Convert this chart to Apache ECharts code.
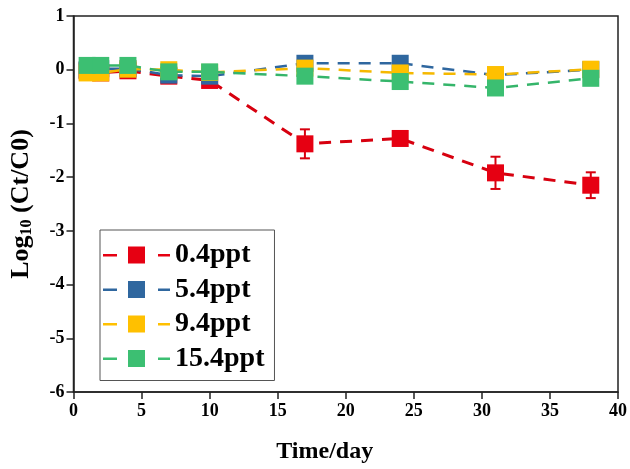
<!DOCTYPE html>
<html>
<head>
<meta charset="utf-8">
<script src="https://cdn.jsdelivr.net/npm/echarts@6/dist/echarts.min.js"></script>
<style>
  html, body { margin: 0; padding: 0; background: #fff; }
  #chart { width: 630px; height: 469px; }
</style>
</head>
<body>
<div id="chart"></div>
<script>
// sampling days
const days = [1, 2, 4, 7, 10, 17, 24, 31, 38]

// log10(Ct/C0) per salinity
const names = ['0.4ppt', '5.4ppt', '9.4ppt', '15.4ppt']
const red = [-0.02, -0.06, -0.02, -0.12, -0.2, -1.38, -1.28, -1.92, -2.15]
const blue = [0.0, 0.02, 0.02, -0.1, -0.12, 0.12, 0.12, -0.1, 0.0]
const orange = [-0.06, -0.06, 0.01, 0.0, -0.05, 0.03, -0.06, -0.09, 0.01]
const green = [0.08, 0.08, 0.08, -0.04, -0.04, -0.12, -0.22, -0.34, -0.16]

// error (±)
const redErr = [0.03, 0.05, 0.03, 0.04, 0.05, 0.27, 0.05, 0.3, 0.24]
const blueErr = [0.03, 0.03, 0.03, 0.03, 0.03, 0.05, 0.05, 0.03, 0.03]
const orangeErr = [0.03, 0.03, 0.04, 0.04, 0.06, 0.04, 0.08, 0.04, 0.03]
const greenErr = [0.04, 0.04, 0.03, 0.04, 0.04, 0.05, 0.05, 0.06, 0.05]

const xTicks = { min: 0, max: 40, interval: 5 }
const yTicks = { min: -6, max: 1, interval: 1 }

const colors = ['#e60012', '#2f679f', '#ffc000', '#3cbf72']
const lineColors = ['#d7000f', '#2f679f', '#f5b800', '#35b56a']
const values = [red, blue, orange, green]
const errs = [redErr, blueErr, orangeErr, greenErr]

const font = '"Liberation Serif", "DejaVu Serif", serif'
// dash - square - dash, like the line+marker legend key
const legendIcon = 'path://M0,7.5h14v2.5h-14z M25,0h17v17h-17z M55,7.5h12v2.5h-12z'

const chart = echarts.init(document.getElementById('chart'), null, { renderer: 'canvas' })

const series = []
values.forEach((vals, i) => {
  series.push({
    name: names[i] + '_err',
    type: 'custom',
    silent: true,
    z: 2 + i,
    data: days.map((d, k) => [d, vals[k], errs[i][k]]),
    renderItem: (params, api) => {
      const x = api.value(0), y = api.value(1), e = api.value(2)
      const top = api.coord([x, y + e])
      const bot = api.coord([x, y - e])
      const cap = 5
      const style = { stroke: lineColors[i], lineWidth: 2 }
      return {
        type: 'group',
        children: [
          { type: 'line', shape: { x1: top[0], y1: top[1], x2: bot[0], y2: bot[1] }, style },
          { type: 'line', shape: { x1: top[0] - cap, y1: top[1], x2: top[0] + cap, y2: top[1] }, style },
          { type: 'line', shape: { x1: bot[0] - cap, y1: bot[1], x2: bot[0] + cap, y2: bot[1] }, style },
        ],
      }
    },
  })
  series.push({
    name: names[i],
    type: 'line',
    z: 2 + i,
    data: days.map((d, k) => [d, vals[k]]),
    symbol: 'rect',
    symbolSize: 17,
    lineStyle: { color: lineColors[i], width: i === 0 ? 3 : 2.5, type: [12, 9] },
    itemStyle: { color: colors[i] },
  })
})

chart.setOption({
  backgroundColor: '#fff',
  animation: false,
  grid: {
    left: 72, right: 11, top: 16, bottom: 73,
    show: true, borderColor: '#222', borderWidth: 1.5,
  },
  legend: {
    data: names,
    orient: 'vertical',
    left: 100,
    top: 230,
    icon: legendIcon,
    itemWidth: 67,
    itemHeight: 17,
    itemGap: 6.5,
    padding: [11, 10, 8, 3],
    borderColor: '#555',
    borderWidth: 1,
    textStyle: { fontFamily: font, fontWeight: 'bold', fontSize: 28, color: '#000' },
  },
  xAxis: {
    type: 'value',
    ...xTicks,
    name: 'Time/day',
    nameLocation: 'middle',
    nameGap: 48,
    nameTextStyle: { fontFamily: font, fontWeight: 'bold', fontSize: 24, color: '#000', padding: [0, 42, 0, 0] },
    axisLine: { onZero: false, lineStyle: { color: '#222', width: 1.5 } },
    axisTick: { length: 7, lineStyle: { color: '#222', width: 1.5 } },
    axisLabel: { fontFamily: font, fontWeight: 'bold', fontSize: 18, color: '#000', margin: 10 },
    splitLine: { show: false },
  },
  yAxis: {
    type: 'value',
    ...yTicks,
    name: '{a|Log}{b|10}{a| (Ct/C0)}',
    nameLocation: 'middle',
    nameGap: 39,
    nameTextStyle: {
      rich: {
        a: { fontFamily: font, fontWeight: 'bold', fontSize: 26, color: '#000' },
        b: { fontFamily: font, fontWeight: 'bold', fontSize: 16, color: '#000', verticalAlign: 'bottom', padding: [11, 0, 0, 0] },
      },
    },
    axisLine: { lineStyle: { color: '#222', width: 1.5 } },
    axisTick: { length: 7, lineStyle: { color: '#222', width: 1.5 } },
    axisLabel: { fontFamily: font, fontWeight: 'bold', fontSize: 18, color: '#000', margin: 9 },
    splitLine: { show: false },
  },
  series,
})
</script>
</body>
</html>
